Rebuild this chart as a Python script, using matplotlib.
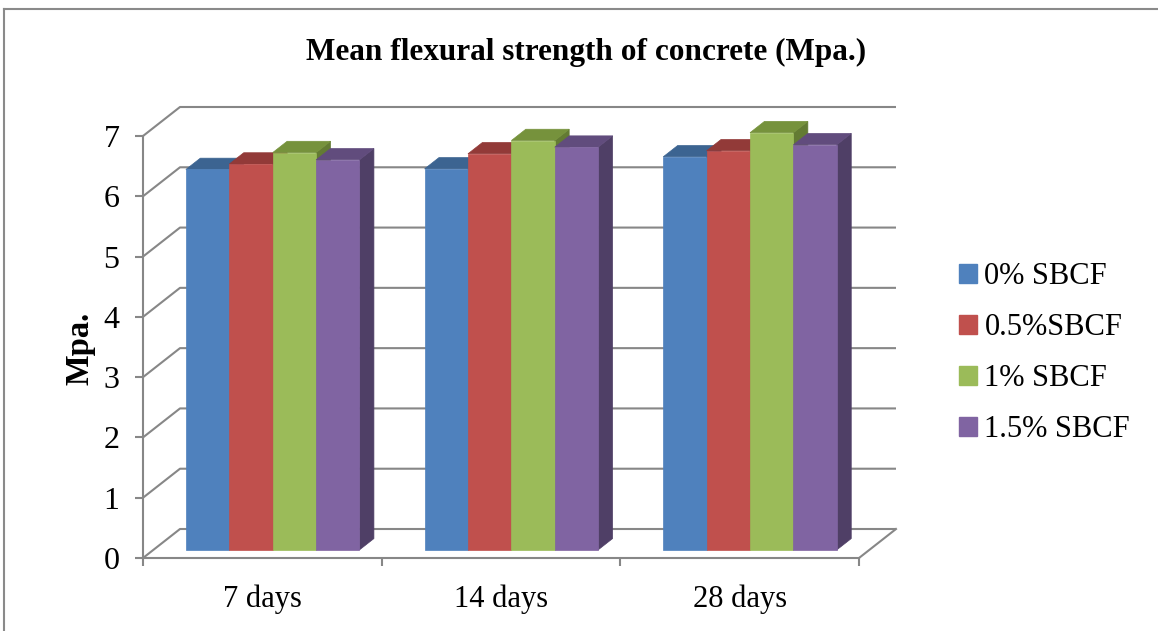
import matplotlib.pyplot as plt
from matplotlib.patches import Polygon, Patch
from matplotlib.lines import Line2D

plt.rcParams['font.family'] = ['Liberation Serif', 'DejaVu Serif']

categories = ['7 days', '14 days', '28 days']
series = ['0% SBCF', '0.5%SBCF', '1% SBCF', '1.5% SBCF']
values = [
    [6.31, 6.32, 6.52],   # 0% SBCF
    [6.40, 6.57, 6.62],   # 0.5%SBCF
    [6.59, 6.79, 6.92],   # 1% SBCF
    [6.47, 6.68, 6.72],   # 1.5% SBCF
]
yticks = [0, 1, 2, 3, 4, 5, 6, 7]

front_cols = ['#4F81BD', '#C0504D', '#9BBB59', '#8064A2']
top_cols = ['#3C6491', '#923A38', '#76923C', '#614C7D']
side_cols = ['#34567D', '#7E3230', '#637B33', '#4F3F66']
grid_col = '#878787'

W, H = 1158, 631
fig = plt.figure(figsize=(W / 100, H / 100), dpi=100)

# pixel size of one category / one MPa on the front plane
cat_px = (859 - 143) / 3
mpa_px = (558 - 136) / 7
xmax, ymax = 3.3, 7.6
ax = fig.add_axes([143 / W, 73 / H, xmax * cat_px / W, ymax * mpa_px / H])
ax.set_xlim(0, xmax)
ax.set_ylim(0, ymax)
ax.patch.set_visible(False)

# oblique depth offset of the back wall, in data units
dx = 37 / cat_px
dy = 29 / mpa_px
ncat = len(categories)

# back wall gridlines with their diagonal on the side wall
for v in yticks:
    ax.plot([0, dx, ncat + dx], [v, v + dy, v + dy], color=grid_col, lw=1.5,
            zorder=1, clip_on=False, solid_capstyle='butt')
# right edge of the floor
ax.plot([ncat, ncat + dx], [0, dy], color=grid_col, lw=1.5, zorder=1, clip_on=False)

# 3d columns
gap = 1.5
w = 1 / (len(series) + gap)
f0, f1 = 0.28, 0.67          # front and back of the columns as fraction of depth
bdx, bdy = (f1 - f0) * dx, (f1 - f0) * dy
for i, cat in enumerate(categories):
    for j in range(len(series)):
        v = values[j][i]
        x = i + gap / 2 * w + j * w + f0 * dx
        y = f0 * dy
        side = [(x + w, y), (x + w, y + v), (x + w + bdx, y + v + bdy), (x + w + bdx, y + bdy)]
        top = [(x, y + v), (x + w, y + v), (x + w + bdx, y + v + bdy), (x + bdx, y + v + bdy)]
        front = [(x, y), (x + w, y), (x + w, y + v), (x, y + v)]
        for pts, c in [(side, side_cols[j]), (top, top_cols[j]), (front, front_cols[j])]:
            ax.add_patch(Polygon(pts, closed=True, facecolor=c, edgecolor=c, lw=0.5,
                                 zorder=3, clip_on=False))

# axes
for s in ['top', 'right']:
    ax.spines[s].set_visible(False)
for s in ['left', 'bottom']:
    ax.spines[s].set_color(grid_col)
    ax.spines[s].set_linewidth(1.5)
ax.spines['left'].set_bounds(0, 7)
ax.spines['bottom'].set_bounds(0, ncat)

ax.set_yticks(yticks)
ax.set_yticklabels([str(t) for t in yticks], fontsize=23)
ax.tick_params(axis='y', length=6, width=1.5, color=grid_col, pad=11)

ax.set_xticks(range(ncat + 1))
ax.set_xticklabels([])
ax.set_xticks([i + 0.5 for i in range(ncat)], minor=True)
ax.set_xticklabels(categories, minor=True, fontsize=22)
ax.tick_params(axis='x', which='major', length=6, width=1.5, color=grid_col)
ax.tick_params(axis='x', which='minor', length=0, pad=19)

ax.set_ylabel('Mpa.', fontsize=23.5, fontweight='bold')
ax.yaxis.set_label_coords((95 - 143) / (xmax * cat_px), (558 - 348) / (ymax * mpa_px))

fig.text(586 / W, 1 - 52 / H, 'Mean flexural strength of concrete (Mpa.)',
         ha='center', va='center', fontsize=22.5, fontweight='bold')

handles = [Patch(facecolor=c, edgecolor=c) for c in front_cols]
fig.legend(handles, series, loc='center left', bbox_to_anchor=(931 / W, 1 - 353 / H),
           frameon=False, fontsize=22, handlelength=0.6, handleheight=0.6,
           handletextpad=0.25, labelspacing=0.72)

# chart border (top and left edges)
fig.add_artist(Line2D([4 / W, 4 / W], [0, 1 - 9 / H], color='#8a8a8a', lw=1.5))
fig.add_artist(Line2D([4 / W, 1], [1 - 9 / H, 1 - 9 / H], color='#8a8a8a', lw=1.5))

fig.savefig('out.png', dpi=100)
